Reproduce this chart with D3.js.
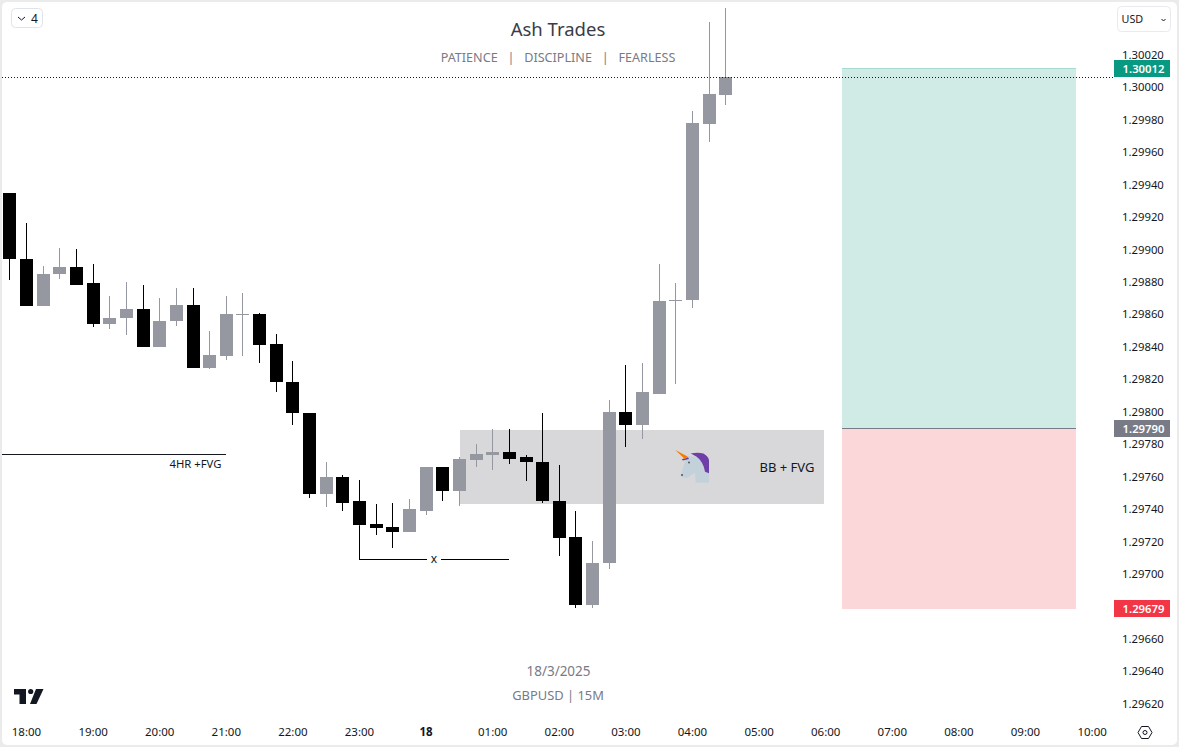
<!DOCTYPE html>
<html>
<head>
<meta charset="utf-8">
<style>
html,body{margin:0;padding:0;background:#ebebeb;overflow:hidden}
svg{display:block}
text{font-family:"Noto Sans",sans-serif;white-space:pre}
</style>
<script src="https://cdn.jsdelivr.net/npm/d3@7/dist/d3.min.js"></script>
</head>
<body>
<svg id="c" width="1179" height="747"></svg>
<script>
const barIndex = d3.range(-1, 43);
const opens  = [1.29935,1.29894,1.29865,1.29885,1.29889,1.29879,1.29854,1.29858,1.29863,1.29840,1.29856,1.29866,1.29827,1.29834,1.29860,1.29860,1.29842,1.29818,1.29799,1.29749,1.29760,1.29745,1.29731,1.29729,1.29726,1.29739,1.29766,1.29751,1.29770,1.29773,1.29775,1.29772,1.29769,1.29745,1.29723,1.29681,1.29707,1.29800,1.29792,1.29811,1.29868,1.29869,1.29977,1.29995];
const highs  = [1.29935,1.29916,1.29890,1.29901,1.29900,1.29891,1.29871,1.29880,1.29878,1.29870,1.29876,1.29876,1.29850,1.29871,1.29873,1.29861,1.29848,1.29831,1.29799,1.29769,1.29761,1.29758,1.29743,1.29744,1.29746,1.29766,1.29766,1.29772,1.29780,1.29789,1.29789,1.29773,1.29799,1.29767,1.29739,1.29720,1.29807,1.29829,1.29830,1.29891,1.29879,1.29985,1.30040,1.30049];
const lows   = [1.29881,1.29865,1.29865,1.29882,1.29878,1.29852,1.29851,1.29847,1.29840,1.29840,1.29853,1.29827,1.29826,1.29832,1.29834,1.29830,1.29812,1.29792,1.29747,1.29741,1.29739,1.29730,1.29724,1.29716,1.29726,1.29736,1.29745,1.29742,1.29766,1.29764,1.29768,1.29757,1.29744,1.29711,1.29679,1.29679,1.29703,1.29778,1.29783,1.29811,1.29817,1.29864,1.29966,1.29989];
const closes = [1.29894,1.29865,1.29885,1.29889,1.29878,1.29854,1.29858,1.29863,1.29840,1.29856,1.29866,1.29827,1.29835,1.29860,1.29860,1.29841,1.29818,1.29799,1.29749,1.29760,1.29744,1.29730,1.29728,1.29726,1.29740,1.29766,1.29751,1.29771,1.29774,1.29775,1.29771,1.29769,1.29745,1.29722,1.29681,1.29707,1.29800,1.29792,1.29812,1.29868,1.29869,1.29978,1.29996,1.30006];

const priceTicks = [1.30020,1.30000,1.29980,1.29960,1.29940,1.29920,1.29900,1.29880,1.29860,1.29840,1.29820,1.29800,1.29780,1.29760,1.29740,1.29720,1.29700,1.29660,1.29640,1.29620];
const hourTicks = d3.range(0, 17);
const hourLabels = ["18:00","19:00","20:00","21:00","22:00","23:00","18","01:00","02:00","03:00","04:00","05:00","06:00","07:00","08:00","09:00","10:00"];

const takeProfit = 1.30012, entry = 1.29790, stopLoss = 1.29679, lastPrice = 1.30006;
const zoneTop = 1.297885, zoneBottom = 1.29743;
const fvgLevel = 1.29774, xStart = 1.29730;

const UP = "#9598a1", DOWN = "#000000", INK = "#131722", MUTED = "#787b86";

const svg = d3.select("#c");
const y = d3.scaleLinear().domain([1.3002, 1.2962]).range([54.7, 703.7]);
const xBar = d3.scaleLinear().domain([0, 64]).range([26, 1091.6]);
const xHour = h => xBar(h * 4);

svg.append("rect").attr("x",2).attr("y",2).attr("width",1175).attr("height",743).attr("rx",5).attr("fill","#fff");

// long position boxes
const px0 = 842, px1 = 1076;
svg.append("rect").attr("x",px0).attr("width",px1-px0).attr("y",Math.round(y(takeProfit))).attr("height",Math.round(y(entry))-Math.round(y(takeProfit))).attr("fill","#d0ebe6");
svg.append("rect").attr("x",px0).attr("width",px1-px0).attr("y",Math.round(y(entry))).attr("height",Math.round(y(stopLoss))+1-Math.round(y(entry))).attr("fill","#fcd7da");
svg.append("line").attr("x1",px0).attr("x2",px1).attr("y1",Math.round(y(takeProfit))+.5).attr("y2",Math.round(y(takeProfit))+.5).attr("stroke","#a5dbd2").attr("stroke-width",1);
svg.append("line").attr("x1",px0).attr("x2",px1).attr("y1",Math.round(y(entry))+.5).attr("y2",Math.round(y(entry))+.5).attr("stroke","#787b86").attr("stroke-width",1);

// BB + FVG zone
svg.append("rect").attr("x",460).attr("width",364).attr("y",Math.round(y(zoneTop))).attr("height",Math.round(y(zoneBottom))-Math.round(y(zoneTop))).attr("fill","#d8d8db");
svg.append("text").attr("x",787).attr("y",471.5).attr("text-anchor","middle").attr("font-size",13).attr("fill",INK).text("BB + FVG");

// Unicorn
const uni = svg.append("g").attr("transform","translate(660,440)");
uni.append("path").attr("fill","#c3d2da").attr("d","M26.7 16 L36.7 16.7 L49 23.3 L49 42.7 L35.7 42.7 L35 32.7 L26.7 38.3 L20.7 36.7 L23 28 Z");
uni.append("path").attr("fill","#6f3fa8").attr("d","M30.7 13.6 C35 12.6 40 12.6 43.3 13.6 C46 15 48.5 17.5 49 20 L49 33.3 L45 31.7 C44 25 41 20 36.7 16.7 Z");
uni.append("path").attr("fill","#6f3fa8").attr("d","M21.7 19.3 L28 17.3 L29 19 L23 20.6 Z");
uni.append("path").attr("fill","#f57c00").attr("d","M15.3 10 L27.5 16.6 L25 19.3 Z");
uni.append("circle").attr("cx",29).attr("cy",22.5).attr("r",.9).attr("fill","#3c4a52");
uni.append("circle").attr("cx",22).attr("cy",35).attr("r",.9).attr("fill","#3c4a52");

// Annotation lines
svg.append("line").attr("x1",2).attr("x2",226).attr("y1",Math.round(y(fvgLevel))+.5).attr("y2",Math.round(y(fvgLevel))+.5).attr("stroke","#131722");
svg.append("text").attr("x",195.5).attr("y",468).attr("text-anchor","middle").attr("font-size",11.3).attr("fill",INK).text("4HR +FVG");
const xLineY = 559.5;
svg.append("line").attr("x1",359.5).attr("x2",359.5).attr("y1",y(xStart)).attr("y2",xLineY).attr("stroke","#000");
svg.append("line").attr("x1",359).attr("x2",427).attr("y1",xLineY).attr("y2",xLineY).attr("stroke","#000");
svg.append("line").attr("x1",441).attr("x2",509).attr("y1",xLineY).attr("y2",xLineY).attr("stroke","#000");
svg.append("text").attr("x",434).attr("y",563).attr("text-anchor","middle").attr("font-size",12).attr("fill",INK).text("x");

// Candles
const candles = barIndex.map((b,i)=>({b,o:opens[i],h:highs[i],l:lows[i],c:closes[i]}));
const col = d => d.c >= d.o ? UP : DOWN;
const g = svg.append("g").selectAll("g").data(candles).join("g");
g.append("line")
 .attr("x1",d=>Math.round(xBar(d.b))+.5).attr("x2",d=>Math.round(xBar(d.b))+.5)
 .attr("y1",d=>Math.round(y(d.h))).attr("y2",d=>Math.round(y(d.l)))
 .attr("stroke",col).attr("stroke-width",1);
g.append("rect")
 .attr("x",d=>Math.round(xBar(d.b))-6).attr("width",13)
 .attr("y",d=>Math.round(y(Math.max(d.o,d.c))))
 .attr("height",d=>Math.max(1,Math.round(y(Math.min(d.o,d.c)))-Math.round(y(Math.max(d.o,d.c)))))
 .attr("fill",col);

// Last price dotted line
svg.append("line").attr("x1",2).attr("x2",1114).attr("y1",Math.round(y(lastPrice))+.5).attr("y2",Math.round(y(lastPrice))+.5)
 .attr("stroke","#131722").attr("stroke-dasharray","1 2");

// Header texts
svg.append("text").attr("x",558).attr("y",36).attr("text-anchor","middle").attr("font-size",18.5).attr("fill","#3a3d47").text("Ash Trades");
svg.append("text").attr("x",558).attr("y",62).attr("text-anchor","middle").attr("font-size",12.6).attr("fill",MUTED).text("PATIENCE   |   DISCIPLINE   |   FEARLESS");
svg.append("text").attr("x",558.5).attr("y",676).attr("text-anchor","middle").attr("font-size",13.5).attr("fill",MUTED).text("18/3/2025");
svg.append("text").attr("x",558).attr("y",700).attr("text-anchor","middle").attr("font-size",12.9).attr("fill",MUTED).text("GBPUSD | 15M");

// Price axis
const yAxis = svg.append("g").attr("transform","translate(1116,0)")
  .call(d3.axisRight(y).tickValues(priceTicks).tickSize(0).tickPadding(6).tickFormat(d3.format(".5f")));
yAxis.select(".domain").remove();
yAxis.selectAll("text").attr("font-size",11.3).attr("fill",INK).attr("font-family","'Noto Sans',sans-serif");

// Price labels
[[takeProfit,"#089981"],[entry,"#787b86"],[stopLoss,"#f23645"]].forEach(([p,c])=>{
  const cy = Math.round(y(p));
  svg.append("rect").attr("x",1114).attr("width",56).attr("y",cy-8).attr("height",17).attr("fill",c);
  svg.append("text").attr("x",1143.5).attr("y",cy+4.5).attr("text-anchor","middle").attr("font-size",11.3).attr("font-weight",600).attr("fill","#fff").text(d3.format(".5f")(p));
});

// Time axis
const xAxis = svg.append("g").attr("transform","translate(0,723)")
  .call(d3.axisBottom(d3.scaleLinear().domain([0,16]).range([xHour(0),xHour(16)])).tickValues(hourTicks).tickSize(0).tickPadding(5).tickFormat(i=>hourLabels[i]));
xAxis.select(".domain").remove();
xAxis.selectAll("text").attr("font-size",11.5).attr("fill",INK).attr("font-family","'Noto Sans',sans-serif")
  .attr("font-weight",(d)=>hourLabels[d]==="18"?700:400);

// TradingView logo
const logo = svg.append("g").attr("transform","translate(14,689)").attr("fill","#131722");
logo.append("path").attr("d","M0 0 H12 V15 H5.5 V5.5 H0 Z");
logo.append("circle").attr("cx",16.7).attr("cy",2.5).attr("r",2.6);
logo.append("path").attr("d","M22 0 H29.5 L22.5 15 H16 Z");

// Interval button
svg.append("rect").attr("x",11.5).attr("y",8.5).attr("width",31).attr("height",19).attr("rx",4).attr("fill","#fff").attr("stroke","#e0e3eb");
svg.append("path").attr("d","M18 17 L21.5 20 L25 17").attr("fill","none").attr("stroke","#131722");
svg.append("text").attr("x",31).attr("y",23).attr("font-size",12).attr("fill",INK).text("4");

// Currency button
svg.append("rect").attr("x",1117.5).attr("y",6.5).attr("width",53).attr("height",25).attr("rx",4).attr("fill","#fff").attr("stroke","#e8eaf0");
svg.append("text").attr("x",1121.5).attr("y",23).attr("font-size",10.8).attr("fill",INK).text("USD");
svg.append("path").attr("d","M1161.5 19 L1163.5 21 L1165.5 19").attr("fill","none").attr("stroke","#131722");

// Settings icon
svg.append("path").attr("d","M1138 732.5 L1141.5 726.5 H1148.5 L1152 732.5 L1148.5 738.5 H1141.5 Z").attr("fill","none").attr("stroke","#131722");
svg.append("circle").attr("cx",1145).attr("cy",732.5).attr("r",2).attr("fill","none").attr("stroke","#131722");
</script>
</body>
</html>
